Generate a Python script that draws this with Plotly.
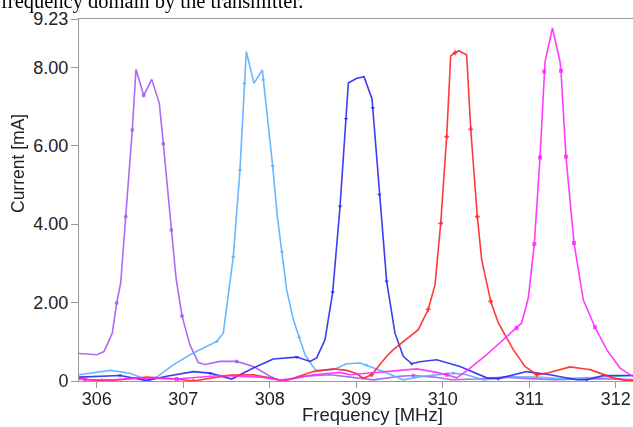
import plotly.graph_objects as go

# ---------------- data (frequency MHz, current mA) ----------------
purple_x = [305.794, 306.00, 306.083, 306.179, 306.230, 306.276, 306.334, 306.410, 306.453, 306.542,
            306.635, 306.723, 306.769, 306.861, 306.916, 306.985, 307.077, 307.173, 307.251, 307.424,
            307.617, 307.809, 308.002, 308.118, 308.40, 308.70, 309.00, 309.20, 309.50, 309.66,
            309.90, 310.10, 310.40, 310.70, 311.00, 311.30, 311.70, 312.00, 312.20]
purple_y = [0.70, 0.67, 0.75, 1.22, 1.99, 2.50, 4.19, 6.40, 7.95, 7.28,
            7.69, 7.08, 6.05, 3.85, 2.62, 1.66, 0.92, 0.47, 0.42, 0.50,
            0.50, 0.37, 0.12, 0.01, 0.12, 0.16, 0.08, 0.03, 0.12, 0.14,
            0.10, 0.03, 0.05, 0.10, 0.06, 0.03, 0.06, 0.05, 0.04]
purple_mk = [4, 6, 7, 9, 12, 13, 15, 20, 29]

lblue_x = [305.794, 306.153, 306.384, 306.577, 306.692, 306.884, 307.077, 307.386, 307.462, 307.520,
           307.578, 307.655, 307.705, 307.728, 307.817, 307.913, 307.925, 308.033, 308.087, 308.141,
           308.195, 308.272, 308.338, 308.407, 308.523, 308.561, 308.734, 308.889, 309.043, 309.120,
           309.312, 309.543, 309.775, 310.121, 310.276, 310.468, 310.777, 311.086, 311.355, 311.624,
           311.930, 312.200]
lblue_y = [0.16, 0.27, 0.20, 0.03, 0.10, 0.41, 0.67, 1.01, 1.22, 2.24,
           3.17, 5.38, 7.59, 8.40, 7.59, 7.93, 7.69, 5.49, 4.19, 3.30,
           2.33, 1.56, 1.12, 0.67, 0.29, 0.27, 0.29, 0.44, 0.46, 0.40,
           0.24, 0.03, 0.12, 0.20, 0.16, 0.03, 0.11, 0.10, 0.06, 0.08,
           0.12, 0.14]
lblue_mk = [7, 10, 11, 12, 16, 17, 19, 22, 29, 33]

blue_x = [305.794, 306.037, 306.268, 306.577, 306.808, 307.116, 307.309, 307.560, 307.809, 308.040,
          308.311, 308.465, 308.542, 308.638, 308.727, 308.812, 308.881, 308.908, 309.005, 309.089,
          309.182, 309.190, 309.266, 309.351, 309.447, 309.543, 309.640, 309.736, 309.929, 310.199,
          310.508, 310.642, 310.970, 311.239, 311.548, 311.664, 311.855, 312.200]
blue_y = [0.10, 0.12, 0.14, 0.01, 0.12, 0.24, 0.20, 0.05, 0.33, 0.56,
          0.61, 0.50, 0.59, 1.05, 2.26, 4.45, 6.68, 7.60, 7.72, 7.76,
          7.19, 6.96, 4.75, 2.54, 1.22, 0.63, 0.44, 0.49, 0.54, 0.37,
          0.08, 0.06, 0.24, 0.16, 0.03, 0.03, 0.14, 0.14]
blue_mk = [2, 6, 10, 14, 15, 16, 21, 22, 23, 26, 31, 35]

red_x = [305.794, 306.057, 306.268, 306.577, 306.924, 307.116, 307.540, 307.809, 308.002, 308.176,
         308.503, 308.734, 308.889, 309.000, 309.080, 309.178, 309.351, 309.428, 309.717, 309.832,
         309.910, 309.976, 310.045, 310.091, 310.141, 310.187, 310.276, 310.323, 310.399, 310.450,
         310.554, 310.642, 310.815, 310.950, 311.086, 311.201, 311.470, 311.702, 311.971, 312.126,
         312.200]
red_y = [0.06, 0.00, 0.03, 0.10, 0.05, 0.00, 0.15, 0.16, 0.08, 0.00,
         0.24, 0.31, 0.27, 0.19, 0.07, 0.16, 0.63, 0.80, 1.31, 1.83,
         2.45, 4.02, 6.23, 8.29, 8.37, 8.42, 8.31, 6.42, 4.19, 3.09,
         2.03, 1.48, 0.80, 0.37, 0.16, 0.20, 0.36, 0.29, 0.08, 0.01,
         0.01]
red_mk = [1, 5, 9, 15, 19, 21, 22, 24, 27, 28, 30, 34]

mag_x = [305.794, 305.864, 306.191, 306.499, 306.924, 307.424, 307.887, 308.156, 308.503, 308.812,
         308.927, 309.312, 309.698, 309.929, 310.045, 310.161, 310.295, 310.507, 310.854, 310.912,
         310.988, 311.058, 311.124, 311.173, 311.182, 311.268, 311.355, 311.366, 311.424, 311.517,
         311.624, 311.760, 311.895, 312.049, 312.200]
mag_y = [0.06, 0.03, 0.03, 0.08, 0.05, 0.14, 0.10, 0.01, 0.16, 0.22,
         0.16, 0.24, 0.31, 0.22, 0.16, 0.08, 0.29, 0.67, 1.35, 1.48,
         2.11, 3.49, 5.70, 7.89, 8.14, 9.00, 8.14, 7.91, 5.72, 3.52,
         2.07, 1.37, 0.80, 0.33, 0.11]
mag_mk = [1, 4, 14, 18, 21, 22, 23, 27, 28, 29, 31]

x_ticks = [306, 307, 308, 309, 310, 311, 312]
y_ticks = [0, 2, 4, 6, 8, 9.23]
y_ticktext = ["0", "2.00", "4.00", "6.00", "8.00", "9.23"]

series = [
    (purple_x, purple_y, purple_mk, "#A45CF2", "circle"),
    (lblue_x, lblue_y, lblue_mk, "#5AAEFF", "triangle-up"),
    (blue_x, blue_y, blue_mk, "#2828EE", "triangle-down"),
    (red_x, red_y, red_mk, "#FF2424", "cross"),
    (mag_x, mag_y, mag_mk, "#FF26FF", "square"),
]

fig = go.Figure()
for xs, ys, mk, col, sym in series:
    fig.add_trace(go.Scatter(x=xs, y=ys, mode="lines",
                             line=dict(color=col, width=1.6), opacity=0.9,
                             showlegend=False, hoverinfo="skip"))
    fig.add_trace(go.Scatter(x=[xs[i] for i in mk], y=[ys[i] for i in mk], mode="markers",
                             marker=dict(color=col, symbol=sym, size=4, line=dict(width=0)),
                             opacity=0.8, showlegend=False, hoverinfo="skip"))

font_main = "Liberation Sans, Arial, sans-serif"
fig.update_layout(
    width=633, height=427,
    margin=dict(l=79, r=0, t=19, b=46),
    paper_bgcolor="white", plot_bgcolor="white",
    font=dict(family=font_main, size=18, color="#222222"),
    xaxis=dict(range=[305.794, 312.199], tickvals=x_ticks, ticktext=[str(v) for v in x_ticks],
               showgrid=False, zeroline=False, showline=True, linecolor="#9a9a9a", linewidth=1,
               mirror=True, ticks="outside", ticklen=6, tickcolor="#9a9a9a",
               tickfont=dict(size=18), ticklabelstandoff=-5),
    yaxis=dict(range=[0, 9.23], tickvals=y_ticks, ticktext=y_ticktext,
               showgrid=False, zeroline=False, showline=True, linecolor="#9a9a9a", linewidth=1,
               ticks="outside", ticklen=7, tickcolor="#9a9a9a", tickfont=dict(size=18),
               ticklabelstandoff=-1),
    annotations=[
        dict(text="Frequency [MHz]", xref="paper", yref="paper",
             x=(372 - 79) / 554, y=-(414 - 381) / 362, xanchor="center", yanchor="middle",
             showarrow=False, font=dict(size=18.5)),
        dict(text="Current [mA]", xref="paper", yref="paper", textangle=-90,
             x=-(79 - 18) / 554, y=(381 - 164) / 362, xanchor="center", yanchor="middle",
             showarrow=False, font=dict(size=17.5)),
        dict(text="frequency domain by the transmitter.", xref="paper", yref="paper",
             x=-(79 + 1) / 554, y=(381 - 2) / 362, xanchor="left", yanchor="middle",
             showarrow=False, font=dict(size=20.5, family="Liberation Serif, Times New Roman, serif",
                                        color="#000000")),
    ],
)

fig.write_html("out.html")
